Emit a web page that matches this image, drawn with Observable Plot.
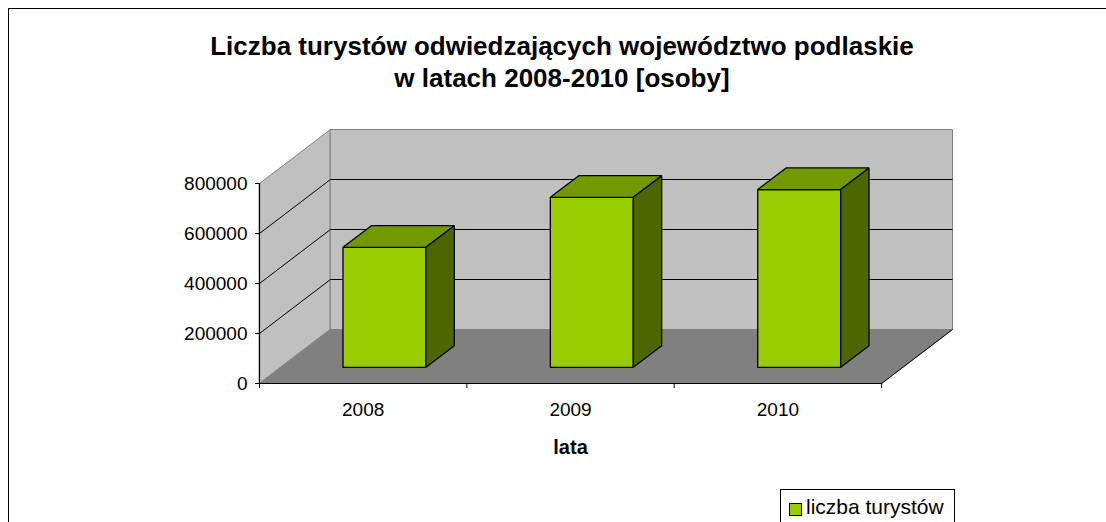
<!DOCTYPE html>
<html>
<head>
<meta charset="utf-8">
<script src="https://cdn.jsdelivr.net/npm/d3@7"></script>
<script src="https://cdn.jsdelivr.net/npm/@observablehq/plot@0.6"></script>
<style>
  html, body { margin: 0; padding: 0; background: #fff; overflow: hidden; width: 1106px; height: 522px; }
  body { position: relative; font-family: "Liberation Sans", Arial, sans-serif; }
  #frame { position: absolute; left: 8px; top: 8px; width: 1200px; height: 600px; border: 1.5px solid #000; box-sizing: border-box; }
  #chart { position: absolute; left: 0; top: 0; }
  #title { position: absolute; left: 162px; width: 800px; top: 30px; text-align: center; font-weight: bold; font-size: 26px; line-height: 32px; color: #000; }
  #legend { position: absolute; left: 780px; top: 489px; width: 175px; height: 60px; border: 1px solid #000; box-sizing: border-box; background: #fff; font-size: 21px; }
  #legend .sw { position: absolute; left: 8px; top: 13px; width: 11px; height: 11px; border: 1px solid #000; background: #99CC00; }
  #legend .lb { position: absolute; left: 25px; top: 5px; white-space: nowrap; }
</style>
</head>
<body>
<div id="frame"></div>
<div id="chart"></div>
<div id="title">Liczba turystów odwiedzających województwo podlaskie<br>w latach 2008-2010 [osoby]</div>
<div id="legend"><div class="sw"></div><div class="lb">liczba turystów</div></div>
<script>
// ---- data ----
const years = ["2008", "2009", "2010"];
const tourists = [480000, 680000, 711000];
const yTicks = [0, 200000, 400000, 600000, 800000];
const seriesName = "liczba turystów";
const xTitle = "lata";

// ---- 3D oblique projection (in data units) ----
const yMax = 800000;
const DX = 0.342;      // depth offset along x (category units)
const DY = 216000;     // depth offset along y (value units)
const d0 = 0.3, d1 = 0.7;   // bar depth range
const bw0 = 0.3, bw1 = 0.7; // bar extent inside category
const nCat = years.length;
const P = (x, v, d) => ({x: x + d * DX, y: v + d * DY});

const poly = (id, pts) => pts.map(p => ({id, ...p}));

const sideWall = poly("side", [P(0, 0, 0), P(0, 0, 1), P(0, yMax, 1), P(0, yMax, 0)]);
const backWall = poly("back", [P(0, 0, 1), P(nCat, 0, 1), P(nCat, yMax, 1), P(0, yMax, 1)]);
const floor = poly("floor", [P(0, 0, 0), P(nCat, 0, 0), P(nCat, 0, 1), P(0, 0, 1)]);

const gridVals = yTicks.filter(v => v > 0 && v < yMax);
const backGrid = gridVals.map(v => ({a: P(0, v, 1), b: P(nCat, v, 1)}));
const sideGrid = gridVals.map(v => ({a: P(0, v, 0), b: P(0, v, 1)}));

const fronts = [], tops = [], sides = [];
tourists.forEach((v, i) => {
  const x0 = i + bw0, x1 = i + bw1;
  fronts.push(...poly("f" + i, [P(x0, 0, d0), P(x1, 0, d0), P(x1, v, d0), P(x0, v, d0)]));
  tops.push(...poly("t" + i, [P(x0, v, d0), P(x1, v, d0), P(x1, v, d1), P(x0, v, d1)]));
  sides.push(...poly("s" + i, [P(x1, 0, d0), P(x1, 0, d1), P(x1, v, d1), P(x1, v, d0)]));
});

const polyMark = (data, fill, stroke, sw) => Plot.line(data, {x: "x", y: "y", z: "id", fill, stroke, strokeWidth: sw, curve: "linear-closed", strokeLinejoin: "miter"});
const linkMark = (data, stroke, sw) => Plot.link(data, {x1: d => d.a.x, y1: d => d.a.y, x2: d => d.b.x, y2: d => d.b.y, stroke, strokeWidth: sw});

const chart = Plot.plot({
  width: 1106,
  height: 522,
  marginLeft: 259,
  marginRight: 154,
  marginTop: 129,
  marginBottom: 139,
  style: {fontFamily: "'Liberation Sans', Arial, sans-serif", background: "transparent", overflow: "visible"},
  x: {type: "linear", domain: [0, nCat + DX], axis: null, label: null},
  y: {type: "linear", domain: [0, yMax + DY], axis: null, label: null},
  marks: [
    polyMark(sideWall, "#C0C0C0", "#808080", 1),
    polyMark(backWall, "#C0C0C0", "#808080", 1),
    polyMark(floor, "#808080", "#808080", 1),
    linkMark(backGrid, "#000", 1),
    linkMark(sideGrid, "#000", 1),
    linkMark([{a: P(nCat, 0, 0), b: P(nCat, 0, 1)}], "#000", 1),
    Plot.ruleY([0], {x1: 0, x2: nCat, stroke: "#000", strokeWidth: 1.2}),
    Plot.ruleX([0], {y1: 0, y2: yMax, stroke: "#000", strokeWidth: 1.2}),
    Plot.axisY({ticks: yTicks, tickSize: 4, tickPadding: 8, tickFormat: d3.format("d"), fontSize: 19, color: "#000", stroke: "#000", label: null}),
    Plot.axisX({ticks: d3.range(nCat + 1), tickSize: 5, tickFormat: () => "", stroke: "#000", label: null}),
    Plot.text(years, {x: (d, i) => i + 0.5, y: () => 0, dy: 26, fontSize: 19, fill: "#000"}),
    Plot.text([xTitle], {x: () => nCat / 2, y: () => 0, dy: 64, fontSize: 20, fontWeight: "bold", fill: "#000"}),
    polyMark(fronts, "#99CC00", "#000", 1.3),
    polyMark(tops, "#739900", "#000", 1.3),
    polyMark(sides, "#4D6600", "#000", 1.3)
  ]
});
document.getElementById("chart").appendChild(chart);
</script>
</body>
</html>
